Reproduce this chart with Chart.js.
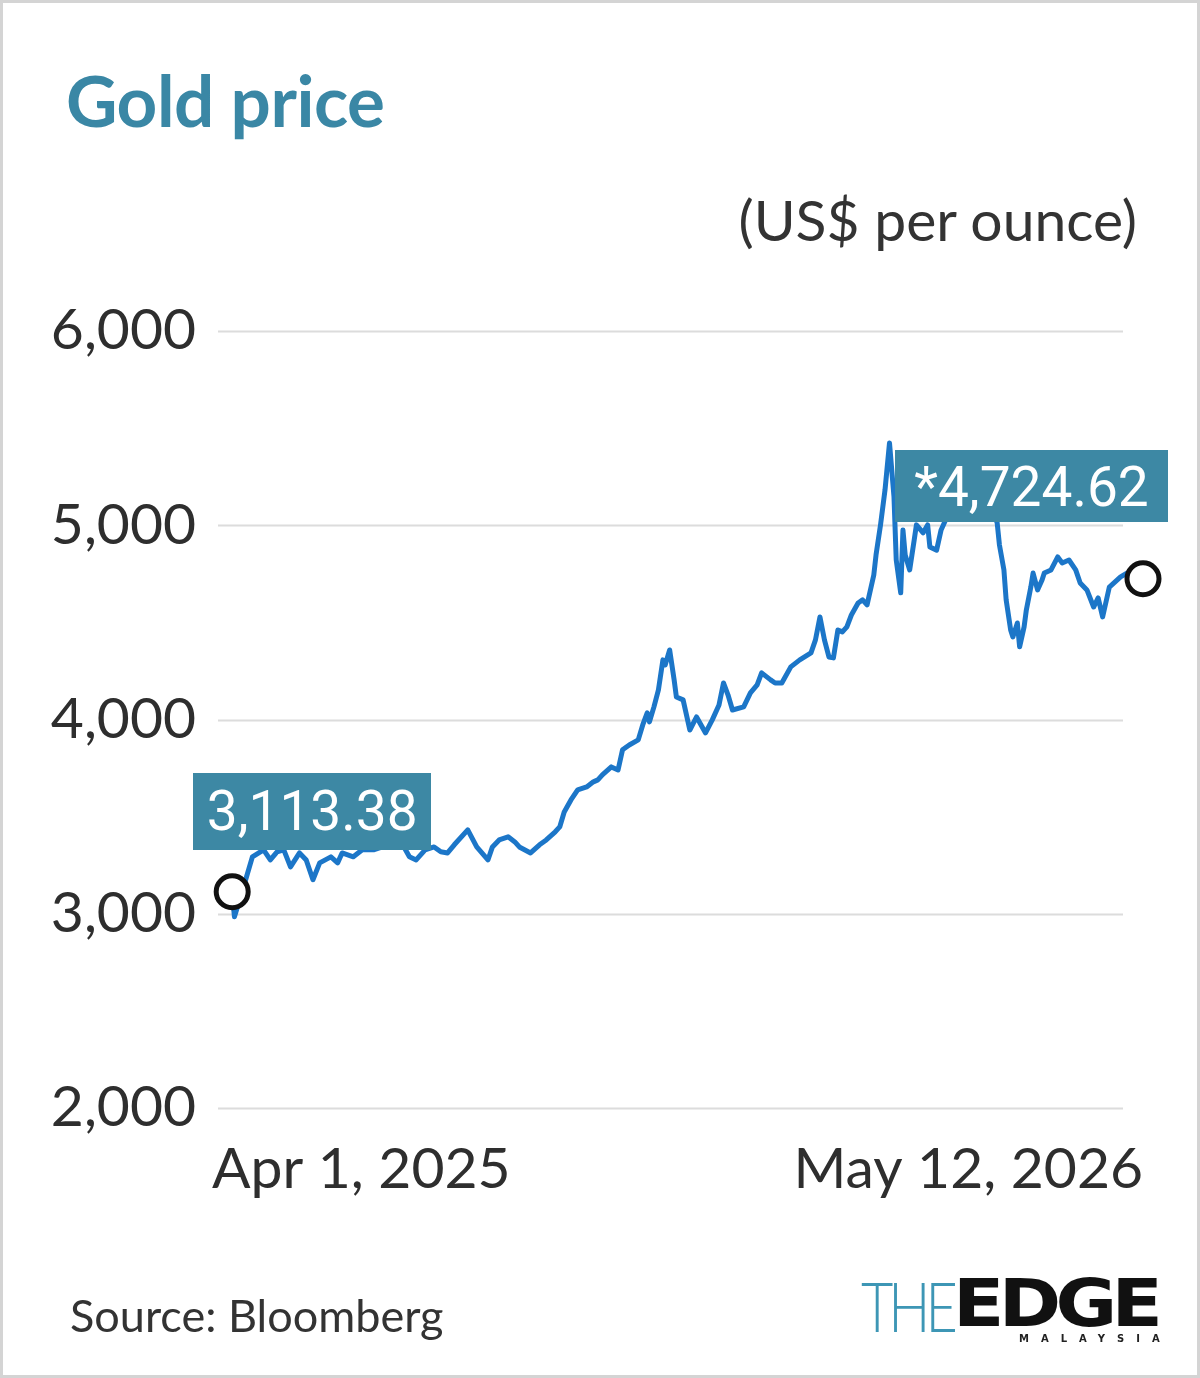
<!DOCTYPE html>
<html>
<head>
<meta charset="utf-8">
<script src="https://cdn.jsdelivr.net/npm/chart.js@4/dist/chart.umd.min.js"></script>
<style>
  html, body { margin: 0; padding: 0; background: #fff; }
  #wrap { position: relative; width: 1200px; height: 1378px; box-sizing: border-box; border: 3px solid #d4d4d4; overflow: hidden; font-family: Lato, sans-serif; }
  #chartBox { position: absolute; left: -3px; top: -3px; width: 1200px; height: 1378px; }
  .title { position: absolute; left: 63px; top: 54px; font: 700 71px Lato, sans-serif; color: #3a87a5; letter-spacing: -0.5px; }
  .unit { position: absolute; right: 60px; top: 182px; font: 400 57px Lato, sans-serif; color: #333; }
  .source { position: absolute; left: 67px; top: 1285px; font: 400 45px Lato, sans-serif; color: #333; }
  .logo { position: absolute; left: 858px; top: 1262px; white-space: nowrap; }
  .logo .the { font: 300 68px Lato, sans-serif; color: #3d96b5; letter-spacing: -6px; display: inline-block; transform: scaleX(0.82); transform-origin: left; vertical-align: top; width: 98px; }
  .logo .edge { font: 900 66px "DejaVu Sans", sans-serif; color: #111; display: inline-block; transform: scaleX(1.14); transform-origin: left; vertical-align: top; letter-spacing: -5px; margin-left: -6px; }
  .logo .my { position: absolute; left: 158px; top: 68px; font: 700 10px "DejaVu Sans", sans-serif; letter-spacing: 12px; color: #222; }
  .tag { position: absolute; background: #3d88a4; color: #fff; font: 400 55px Roboto, sans-serif; text-align: center; white-space: nowrap; }
</style>
</head>
<body>
<div id="wrap">
  <div id="chartBox"><canvas id="c"></canvas></div>
  <div class="title">Gold price</div>
  <div class="unit">(US$ per ounce)</div>
  <div class="source">Source: Bloomberg</div>
  <div class="logo"><span class="the">THE</span><span class="edge">EDGE</span><span class="my">MALAYSIA</span></div>
  <div class="tag" id="tagStart"></div>
  <div class="tag" id="tagEnd"></div>
</div>
<script>
// Days since Apr 1, 2025
const days = [
  0,1,6,9,14,17,20,23,26,30,
  33,36,39,44,47,49,54,58,63,67,
  73,76,79,82,86,90,93,96,99,105,
  109,114,116,119,123,126,128,133,137,140,
  144,146,148,151,154,158,161,163,165,169,
  172,174,177,181,183,185,186,188,190,192,
  193,195,197,198,201,204,207,211,214,217,
  219,221,223,228,231,234,236,240,242,245,
  249,253,258,260,262,264,266,268,270,272,
  274,276,279,281,283,286,287,289,291,293,
  295,296,298,299,300,302,304,305,308,310,
  311,314,316,319,322,325,329,332,336,339,
  341,342,344,345,347,348,350,351,353,354,
  356,357,359,361,362,365,368,370,373,376,
  378,381,384,386,388,391,396,399,406
];
// Gold price, US$ per ounce
const prices = [
  3113.38,2984,3175,3293,3329,3277,3319,3329,3241,3313,
  3277,3175,3262,3293,3262,3313,3293,3329,3329,3344,
  3355,3355,3293,3277,3329,3344,3319,3313,3355,3432,
  3344,3277,3344,3380,3396,3370,3344,3313,3355,3380,
  3422,3447,3524,3586,3638,3653,3679,3689,3715,3756,
  3740,3844,3869,3895,3972,4034,3988,4065,4152,4307,
  4281,4358,4204,4116,4101,3946,4013,3931,3998,4075,
  4188,4127,4049,4065,4137,4178,4240,4204,4188,4188,
  4271,4307,4343,4410,4528,4410,4322,4317,4461,4451,
  4477,4538,4600,4616,4590,4744,4847,5002,5182,5424,
  5146,4821,4652,4976,4847,4770,4924,5002,4961,5002,
  4888,4872,4976,5053,5104,5130,5156,5104,5140,5079,
  5012,4899,4770,4616,4461,4425,4497,4374,4477,4564,
  4682,4754,4667,4718,4754,4770,4837,4806,4821,4770,
  4703,4667,4579,4626,4528,4682,4734,4754,4724.62
];
const yTickValues = [2000, 3000, 4000, 5000, 6000];
const xTickLabels = ['Apr 1, 2025', 'May 12, 2026'];
const startLabel = '3,113.38';
const endLabel = '*4,724.62';

const points = days.map((d, i) => ({ x: d, y: prices[i] }));
const lastIdx = points.length - 1;

const gridPlugin = {
  id: 'customGrid',
  beforeDatasetsDraw(chart) {
    const { ctx, scales: { x, y } } = chart;
    const x0 = chart.chartArea.left + 6;
    const x1 = x.getPixelForValue(days[lastIdx]) - 20;
    ctx.save();
    ctx.strokeStyle = '#dcdcdc';
    ctx.lineWidth = 2;
    yTickValues.forEach(v => {
      const py = Math.round(y.getPixelForValue(v)) + 0.5;
      ctx.beginPath(); ctx.moveTo(x0, py); ctx.lineTo(x1, py); ctx.stroke();
    });
    ctx.restore();
  }
};

const chart = new Chart(document.getElementById('c'), {
  type: 'line',
  data: {
    datasets: [{
      data: points,
      borderColor: '#1c76c8',
      borderWidth: 5,
      tension: 0,
      pointRadius: ctx => (ctx.dataIndex === 0 || ctx.dataIndex === lastIdx) ? 16 : 0,
      pointBorderWidth: 5,
      pointBorderColor: '#111',
      pointBackgroundColor: '#fff',
      borderJoinStyle: 'round',
      clip: false
    }]
  },
  options: {
    responsive: true,
    maintainAspectRatio: false,
    animation: false,
    events: [],
    layout: { padding: { top: 331, right: 57, bottom: 0, left: 0 } },
    plugins: { legend: { display: false }, tooltip: { enabled: false } },
    scales: {
      x: {
        type: 'linear',
        min: -9,
        max: 406,
        border: { display: false },
        grid: { display: false, drawTicks: false },
        afterFit(s) { s.height = 270; },
        afterBuildTicks(s) { s.ticks = [{ value: s.min }, { value: s.max }]; },
        ticks: {
          align: 'inner',
          padding: 27,
          maxRotation: 0,
          color: '#2e2e2e',
          font: { family: 'Lato', size: 57 },
          callback: (v, i) => xTickLabels[i]
        }
      },
      y: {
        min: 2000,
        max: 6000,
        border: { display: false },
        grid: { display: false, drawTicks: false },
        afterFit(s) { s.width = 212; },
        afterBuildTicks(s) { s.ticks = yTickValues.map(v => ({ value: v })); },
        ticks: {
          padding: 16,
          color: '#2e2e2e',
          font: { family: 'Lato', size: 57 },
          callback: v => v.toLocaleString('en-US')
        }
      }
    }
  },
  plugins: [gridPlugin]
});

// Position value tags relative to first/last points
(function placeTags() {
  const xs = chart.scales.x, ys = chart.scales.y;
  const sx = xs.getPixelForValue(days[0]), sy = ys.getPixelForValue(prices[0]);
  const ex = xs.getPixelForValue(days[lastIdx]), ey = ys.getPixelForValue(prices[lastIdx]);
  const t1 = document.getElementById('tagStart');
  t1.textContent = startLabel;
  Object.assign(t1.style, { left: (sx - 39 - 3) + 'px', top: (sy - 42 - 77 - 3) + 'px', width: '238px', height: '77px', lineHeight: '77px' });
  const t2 = document.getElementById('tagEnd');
  t2.textContent = endLabel;
  Object.assign(t2.style, { left: (ex + 25 - 273 - 3) + 'px', top: (ey - 57 - 72 - 3) + 'px', width: '273px', height: '72px', lineHeight: '74px' });
})();
</script>
</body>
</html>
